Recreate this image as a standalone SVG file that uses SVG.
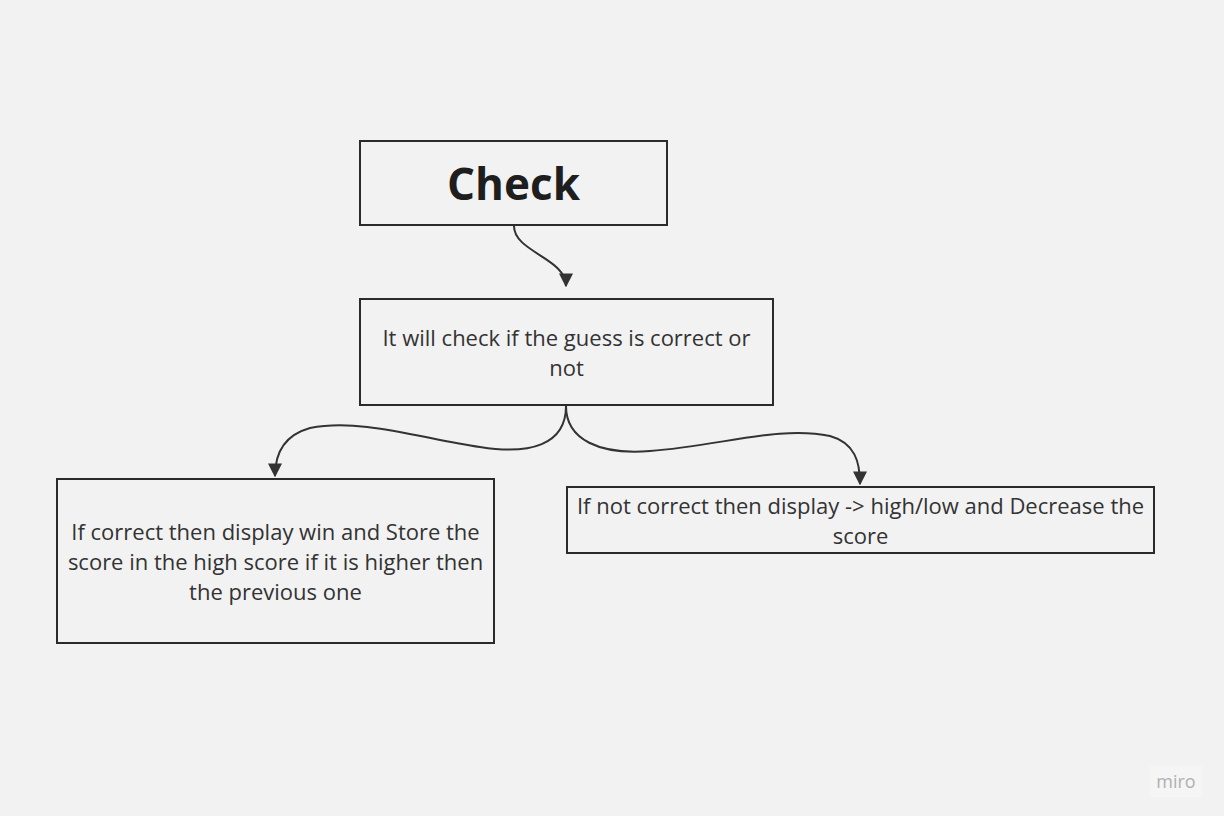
<svg xmlns="http://www.w3.org/2000/svg" width="1224" height="816" viewBox="0 0 1224 816">
<style>
.box{fill:none;stroke:#2b2b2b;stroke-width:2}
.t{font-family:"Open Sans","Noto Sans",sans-serif;font-size:22px;fill:#333;text-anchor:middle;dominant-baseline:central}
.c{fill:none;stroke:#333;stroke-width:2}
</style>
<defs>
<marker id="ah" viewBox="0 0 10 10" refX="9" refY="5" markerWidth="14" markerHeight="14" markerUnits="userSpaceOnUse" orient="auto">
<path d="M0 0 L10 5 L0 10 Z" fill="#333"/>
</marker>
</defs>
<rect width="1224" height="816" fill="#f2f2f2"/>
<g id="connectors">
<path class="c" d="M514 226 C514 252 566 258 566 286" marker-end="url(#ah)"/>
<path class="c" d="M566 406 C566 445 530 455 480 447 C420 438 360 418 310 428 C285 435 275 452 275 476" marker-end="url(#ah)"/>
<path class="c" d="M566 406 C566 440 600 455 650 451 C720 446 780 425 830 436 C855 443 860 462 860 484" marker-end="url(#ah)"/>
</g>
<g id="check">
<rect class="box" x="360" y="141" width="307" height="84"/>
<text class="t" x="513.5" y="183" style="font-size:44px;font-weight:bold;fill:#1e1e1e">Check</text>
</g>
<g id="checkGuess">
<rect class="box" x="360" y="299" width="413" height="106"/>
<text class="t" x="566.5" y="337">It will check if the guess is correct or</text>
<text class="t" x="566.5" y="367">not</text>
</g>
<g id="correct">
<rect class="box" x="57" y="479" width="437" height="164"/>
<text class="t" x="275.5" y="531">If correct then display win and Store the</text>
<text class="t" x="275.5" y="561">score in the high score if it is higher then</text>
<text class="t" x="275.5" y="591">the previous one</text>
</g>
<g id="notCorrect">
<rect class="box" x="567" y="487" width="587" height="66"/>
<text class="t" x="860.5" y="505">If not correct then display -&gt; high/low and Decrease the</text>
<text class="t" x="860.5" y="535">score</text>
</g>
<g id="logo">
<rect x="1150" y="766" width="52" height="31" fill="#f5f5f5"/>
<text class="t" x="1176" y="781" style="font-size:18px;fill:#b0b0b0">miro</text>
</g>
</svg>
